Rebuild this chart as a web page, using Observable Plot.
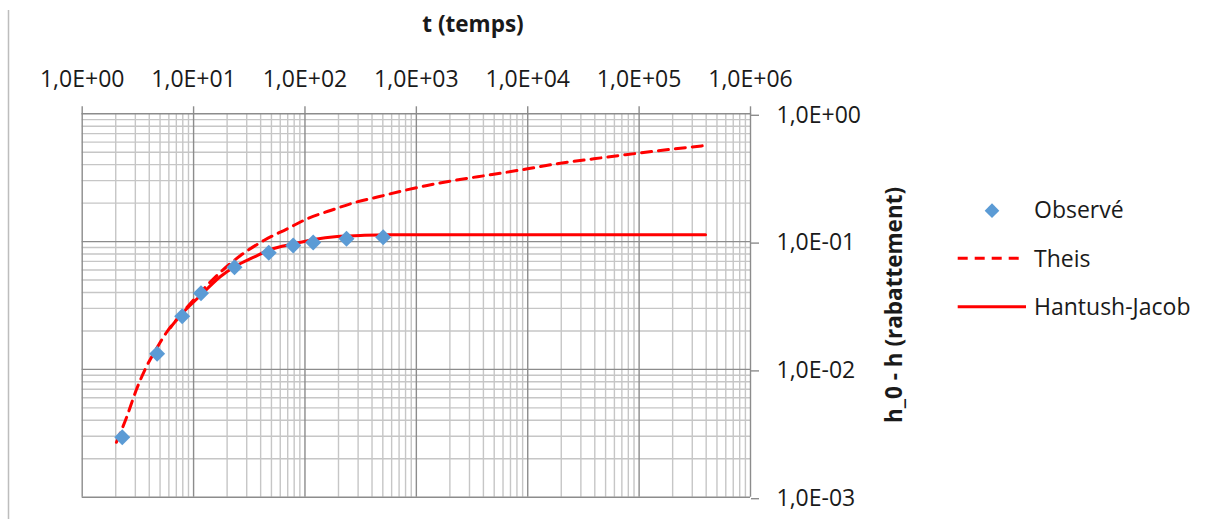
<!DOCTYPE html>
<html><head><meta charset="utf-8">
<script src="https://cdn.jsdelivr.net/npm/d3@7"></script>
<script src="https://cdn.jsdelivr.net/npm/@observablehq/plot@0.6"></script>
<style>
body{margin:0;background:#fff;}
#wrap{position:relative;width:1215px;height:519px;overflow:hidden;font-family:"Open Sans",sans-serif;}
#wrap svg{position:absolute;left:0;top:0;}
</style></head><body><div id="wrap"></div>
<script>
// ---- data ----
const seriesNames = ["Observé", "Theis", "Hantush-Jacob"];
const xTitle = "t (temps)";
const yTitle = "h_0 - h (rabattement)";

const obsT = [2.29, 4.71, 7.90, 11.66, 23.3, 47.3, 78.4, 118.6, 236, 504];
const obsS = [0.00295, 0.01325, 0.02608, 0.03947, 0.0630, 0.0817, 0.0932, 0.0984, 0.1052, 0.1083];

const theisT = [2.03, 2.50, 3.07, 3.78, 4.65, 5.71, 7.32, 11.5, 17.4, 26.4, 42.7, 69.3, 104.7, 169.5, 274, 477, 772, 1251, 2169, 4797, 9954, 19700, 39200, 78700, 155700, 394700];
const theisS = [0.00269, 0.00420, 0.00696, 0.01054, 0.01457, 0.01944, 0.02547, 0.03997, 0.05762, 0.0778, 0.1020, 0.1259, 0.1509, 0.1751, 0.2012, 0.2262, 0.2511, 0.2748, 0.3006, 0.3350, 0.3712, 0.4107, 0.4445, 0.4803, 0.5162, 0.5649];

const hjT = [6.2, 7.37, 11.53, 17.44, 22.96, 34.72, 49.05, 79.4, 120.0, 194.7, 315.1, 547.3, 5695, 394700];
const hjS = [0.02128, 0.02561, 0.03786, 0.05331, 0.06305, 0.07548, 0.08675, 0.09612, 0.1038, 0.1096, 0.1116, 0.1130, 0.1130, 0.1130];

const xTicks = [1, 10, 100, 1000, 10000, 100000, 1000000];
const xTickLabels = ["1,0E+00", "1,0E+01", "1,0E+02", "1,0E+03", "1,0E+04", "1,0E+05", "1,0E+06"];
const yTicks = [0.001, 0.01, 0.1, 1];
const yTickLabels = ["1,0E-03", "1,0E-02", "1,0E-01", "1,0E+00"];
const minorMultipliers = [2, 3, 4, 5, 6, 7, 8, 9];

// ---- build tables ----
const obs = obsT.map((t, i) => ({t, s: obsS[i]}));
const theis = theisT.map((t, i) => ({t, s: theisS[i]}));
const hj = hjT.map((t, i) => ({t, s: hjS[i]}));
const xMinor = xTicks.slice(0, -1).flatMap(d => minorMultipliers.map(k => k * d));
const yMinor = yTicks.slice(0, -1).flatMap(d => minorMultipliers.map(k => k * d));

const RED = "#ff0000", BLUE = "#5b9bd5", MAJOR = "#8c8c8c", MINOR = "#c6c6c6", TXT = "#1a1a1a";

const chart = Plot.plot({
  width: 1215, height: 519,
  marginLeft: 81.7, marginRight: 465, marginTop: 113.3, marginBottom: 22.3,
  style: {fontFamily: "'Open Sans', sans-serif", fontSize: "23px", color: TXT, background: "transparent", overflow: "visible"},
  x: {type: "log", domain: [1, 1e6]},
  y: {type: "log", domain: [1e-3, 1]},
  marks: [
    Plot.gridX(xMinor, {stroke: MINOR, strokeOpacity: 1, strokeWidth: 1.4}),
    Plot.gridY(yMinor, {stroke: MINOR, strokeOpacity: 1, strokeWidth: 1.4}),
    Plot.gridX(xTicks, {stroke: MAJOR, strokeOpacity: 1, strokeWidth: 1.4}),
    Plot.gridY(yTicks, {stroke: MAJOR, strokeOpacity: 1, strokeWidth: 1.4}),
    Plot.axisX({anchor: "top", ticks: xTicks, tickSize: 8, tickPadding: 19, label: null,
      tickFormat: d => xTickLabels[xTicks.indexOf(d)], stroke: MAJOR, fill: TXT, strokeWidth: 1.4}),
    Plot.axisY({anchor: "right", ticks: yTicks, tickSize: 8, tickPadding: 18, label: null,
      tickFormat: d => yTickLabels[yTicks.indexOf(d)], stroke: MAJOR, fill: TXT, strokeWidth: 1.4, dy: 1.5}),
    Plot.line(hj, {x: "t", y: "s", stroke: RED, strokeWidth: 3, curve: "monotone-x"}),
    Plot.line(theis, {x: "t", y: "s", stroke: RED, strokeWidth: 3, strokeDasharray: "10,7", curve: "monotone-x"}),
    Plot.dot(obs, {x: "t", y: "s", symbol: "diamond2", r: 7.2, fill: BLUE})
  ]
});

const wrap = document.getElementById("wrap");
wrap.appendChild(chart);

// ---- titles, legend, frame line ----
const ov = d3.create("svg").attr("width", 1215).attr("height", 519)
  .style("font-family", "'Open Sans', sans-serif").style("pointer-events", "none");
ov.append("line").attr("x1", 8.5).attr("x2", 8.5).attr("y1", 10).attr("y2", 519)
  .attr("stroke", "#bdbdbd").attr("stroke-width", 1.5);
ov.append("text").attr("x", 473).attr("y", 32).attr("text-anchor", "middle")
  .attr("font-weight", 700).attr("font-size", 22.5).attr("fill", TXT).text(xTitle);
ov.append("text").attr("transform", "translate(902,305) rotate(-90)").attr("text-anchor", "middle")
  .attr("font-weight", 700).attr("font-size", 22.5).attr("fill", TXT).text(yTitle);

const lg = ov.append("g");
lg.append("path").attr("transform", "translate(992,210.7)")
  .attr("d", d3.symbol(d3.symbolDiamond2, Math.PI * 6.6 * 6.6)()).attr("fill", BLUE);
lg.append("line").attr("x1", 957.7).attr("x2", 1022).attr("y1", 258.3).attr("y2", 258.3)
  .attr("stroke", RED).attr("stroke-width", 3).attr("stroke-dasharray", "10,7");
lg.append("line").attr("x1", 957.7).attr("x2", 1026).attr("y1", 306.7).attr("y2", 306.7)
  .attr("stroke", RED).attr("stroke-width", 3);
const lgBase = [218, 266.5, 315];
seriesNames.forEach((n, i) => {
  lg.append("text").attr("x", 1034).attr("y", lgBase[i]).attr("font-size", 23).attr("fill", TXT).text(n);
});
wrap.appendChild(ov.node());
</script>
</body></html>
